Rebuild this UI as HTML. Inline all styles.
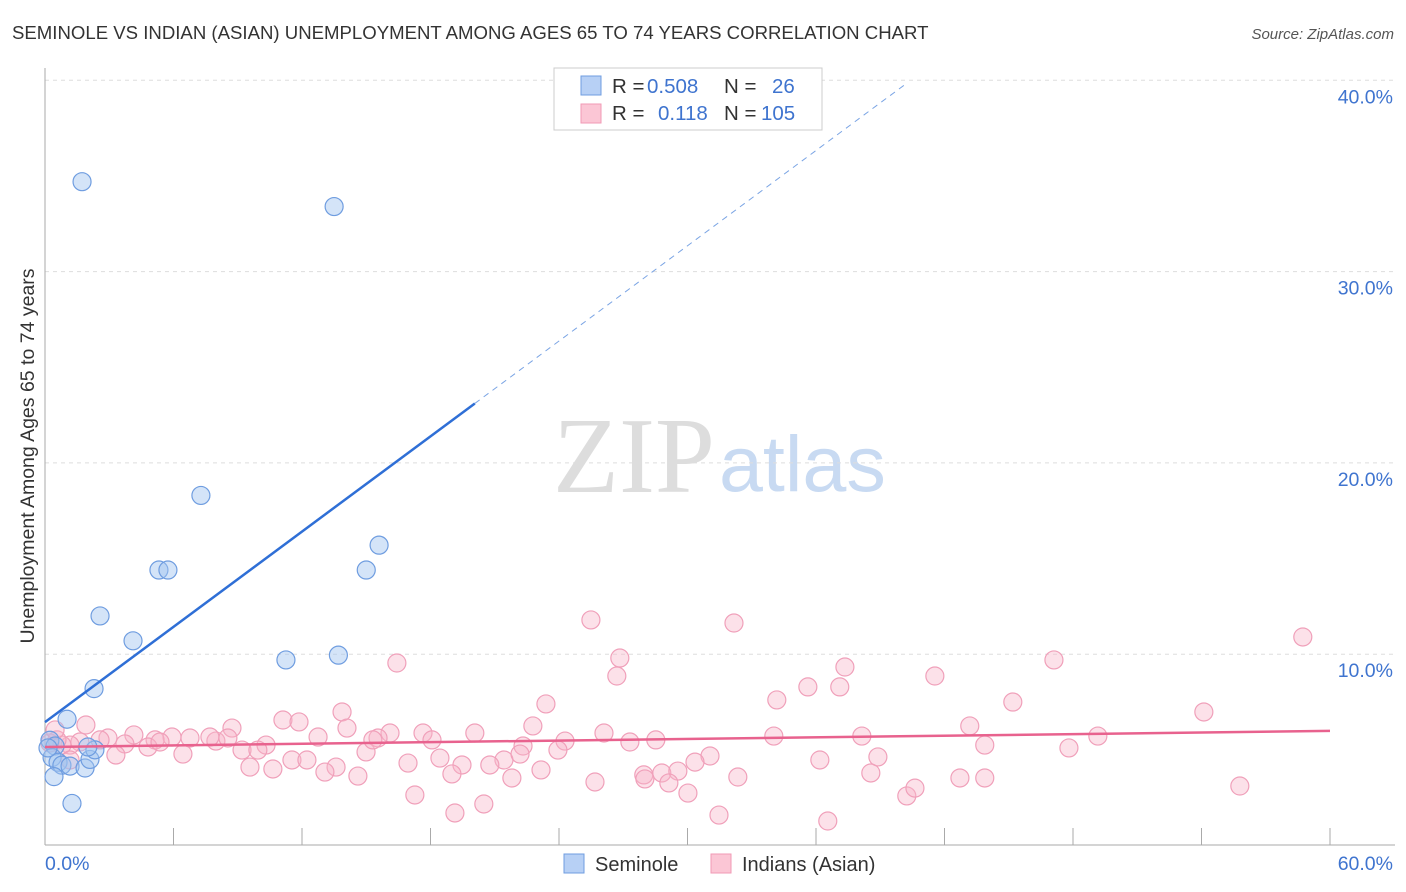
<!DOCTYPE html>
<html><head><meta charset="utf-8"><style>
body{margin:0;background:#fff;font-family:"Liberation Sans",sans-serif;}
svg{display:block}
</style></head><body>
<svg id="chart" width="1406" height="892" xmlns="http://www.w3.org/2000/svg">
<text x="12" y="39" font-size="18.6" fill="#333">SEMINOLE VS INDIAN (ASIAN) UNEMPLOYMENT AMONG AGES 65 TO 74 YEARS CORRELATION CHART</text>
<text x="1394" y="39" font-size="15" fill="#555" font-style="italic" text-anchor="end">Source: ZipAtlas.com</text>
<text x="34" y="456" font-size="19.5" fill="#333" text-anchor="middle" transform="rotate(-90 34 456)">Unemployment Among Ages 65 to 74 years</text>
<g>
<text x="553" y="492" font-size="108" fill="#ddd" font-family="Liberation Serif,serif">ZIP</text>
<text x="719" y="491" font-size="79" fill="#c8daf2">atlas</text>
</g>
<g id="grid"></g>
<g id="marks"></g>
<g>
<rect x="554" y="68" width="268" height="62" fill="#fff" stroke="#ccc"/>
<rect x="581" y="76" width="20" height="19" fill="#b7d0f5" stroke="#6f9de0"/>
<rect x="581" y="104" width="20" height="19" fill="#fbc6d5" stroke="#f09ab5"/>
<text x="612" y="93" font-size="20.5" fill="#333">R = <tspan fill="#3f74cf" x="647">0.508</tspan></text>
<text x="724" y="93" font-size="20.5" fill="#333">N = <tspan fill="#3f74cf" x="772">26</tspan></text>
<text x="612" y="120" font-size="20.5" fill="#333">R = <tspan fill="#3f74cf" x="658">0.118</tspan></text>
<text x="724" y="120" font-size="20.5" fill="#333">N = <tspan fill="#3f74cf" x="761">105</tspan></text>
</g>
<g>
<rect x="564" y="854" width="20" height="19" fill="#b7d0f5" stroke="#6f9de0"/>
<text x="595" y="871" font-size="20" fill="#333">Seminole</text>
<rect x="711" y="854" width="20" height="19" fill="#fbc6d5" stroke="#f09ab5"/>
<text x="742" y="871" font-size="20" fill="#333">Indians (Asian)</text>
</g>
</svg>
<script>
const yTicks=[10,20,30,40];
const yTickLabels=["10.0%","20.0%","30.0%","40.0%"];
const xTickValues=[0,6,12,18,24,30,36,42,48,54,60];
const seminoleX=[1.73,13.5,7.28,5.32,5.74,15.6,15.0,2.57,4.11,11.25,13.7,2.29,1.03,0.23,0.47,0.33,0.61,0.79,1.17,1.87,2.1,2.33,2.0,0.42,1.26,0.14];
const seminoleY=[34.7,33.4,18.3,14.4,14.4,15.7,14.4,12.0,10.7,9.7,9.95,8.2,6.6,5.5,5.2,4.6,4.35,4.2,4.15,4.05,4.5,5.0,5.15,3.6,2.2,5.1];
const indianX=[25.49,32.17,58.73,26.84,47.11,16.43,26.70,37.35,41.55,35.62,37.11,34.17,23.39,45.19,54.11,13.87,11.11,11.86,8.73,22.78,43.18,26.10,34.03,38.14,49.16,20.07,17.65,16.11,14.10,12.75,15.55,10.32,7.98,7.70,6.77,5.93,5.14,4.15,2.94,2.57,1.63,1.17,0.79,0.56,0.23,3.73,4.81,9.20,9.94,14.99,27.31,28.52,24.28,22.32,18.07,31.05,30.35,36.18,38.89,43.88,47.81,23.95,21.43,19.47,20.77,16.95,18.44,11.53,12.23,6.44,3.31,9.57,10.64,13.59,13.07,14.61,19.00,21.80,23.16,27.96,28.01,28.80,29.55,29.13,32.35,38.56,42.72,43.88,25.68,30.02,40.24,40.62,55.79,17.27,20.49,19.14,31.47,36.55,1.91,1.17,0.47,22.18,5.37,8.54,15.31];
const indianY=[11.79,11.63,10.90,9.80,9.70,9.54,8.86,9.33,8.86,8.29,8.29,7.61,7.40,7.50,6.98,6.98,6.56,6.46,6.14,6.25,6.25,5.88,5.72,5.72,5.72,5.88,5.88,5.88,6.14,5.67,5.62,5.25,5.46,5.67,5.62,5.67,5.52,5.78,5.62,5.52,5.41,5.25,5.25,5.52,5.36,5.31,5.15,4.99,4.99,4.89,5.41,5.52,5.46,5.20,5.52,4.68,4.36,4.47,4.63,5.25,5.10,4.99,4.47,4.21,4.21,4.31,4.57,4.47,4.47,4.78,4.73,4.10,4.00,4.10,3.84,3.63,3.74,3.53,3.95,3.69,3.48,3.79,3.89,3.27,3.58,3.79,3.53,3.53,3.32,2.74,2.59,3.00,3.11,2.64,2.17,1.70,1.59,1.28,6.30,4.47,6.04,4.78,5.41,5.62,5.52];
const seminoleTrend=[6.45,0.83];
const indianTrend=[5.15,0.014];
const NS="http://www.w3.org/2000/svg";
const xs=v=>45+v/60*1285;
const ys=v=>845.5-v*19.13;
function mk(parent,tag,attrs){const e=document.createElementNS(NS,tag);for(const k in attrs)e.setAttribute(k,attrs[k]);parent.appendChild(e);return e;}
const gridG=document.getElementById('grid'),marksG=document.getElementById('marks');
yTicks.forEach((t,i)=>{
 const l=mk(gridG,'line',{x1:45,x2:1395,y1:ys(t),y2:ys(t),stroke:'#ddd','stroke-dasharray':'4,4'});
 
 
 const tx=mk(gridG,'text',{x:1393,y:ys(t)+23,'font-size':19.5,fill:'#3f74cf','text-anchor':'end'});
 tx.textContent=yTickLabels[i];
 
 
});
const yAxisLine=mk(gridG,'line',{x1:45,x2:45,y1:68,y2:845,stroke:'#aaa'});


const xAxisLine=mk(gridG,'line',{x1:45,x2:1395,y1:845,y2:845,stroke:'#aaa'});


xTickValues.forEach(t=>{const l=mk(gridG,'line',{x1:xs(t),x2:xs(t),y1:828,y2:845,stroke:'#aaa'});
 
 });
const xl0=mk(gridG,'text',{x:45,y:870,'font-size':19.5,fill:'#3f74cf'});xl0.textContent='0.0%';


const xl1=mk(gridG,'text',{x:1393,y:870,'font-size':19.5,fill:'#3f74cf','text-anchor':'end'});xl1.textContent='60.0%';


indianX.forEach((x,i)=>{const c=mk(marksG,'circle',{cx:xs(x),cy:ys(indianY[i]),r:9,fill:'rgba(248,180,200,0.4)',stroke:'#f0a0ba','stroke-width':1.2});
 
 });
seminoleX.forEach((x,i)=>{const c=mk(marksG,'circle',{cx:xs(x),cy:ys(seminoleY[i]),r:9,fill:'rgba(160,195,240,0.45)',stroke:'#6f9de0','stroke-width':1.2});
 
 });
const sEnd=20.07,sDash=40.1;
const sl=mk(marksG,'line',{x1:xs(0),y1:ys(seminoleTrend[0]),x2:xs(sEnd),y2:ys(seminoleTrend[0]+seminoleTrend[1]*sEnd),stroke:'#2f6fd6','stroke-width':2.5});


const sd=mk(marksG,'line',{x1:xs(sEnd),y1:ys(seminoleTrend[0]+seminoleTrend[1]*sEnd),x2:xs(sDash),y2:ys(seminoleTrend[0]+seminoleTrend[1]*sDash),stroke:'#7aa4e4','stroke-width':1,'stroke-dasharray':'6,5'});


const il=mk(marksG,'line',{x1:xs(0),y1:ys(indianTrend[0]),x2:xs(60),y2:ys(indianTrend[0]+indianTrend[1]*60),stroke:'#e8628e','stroke-width':2.5});


</script>
</body></html>
